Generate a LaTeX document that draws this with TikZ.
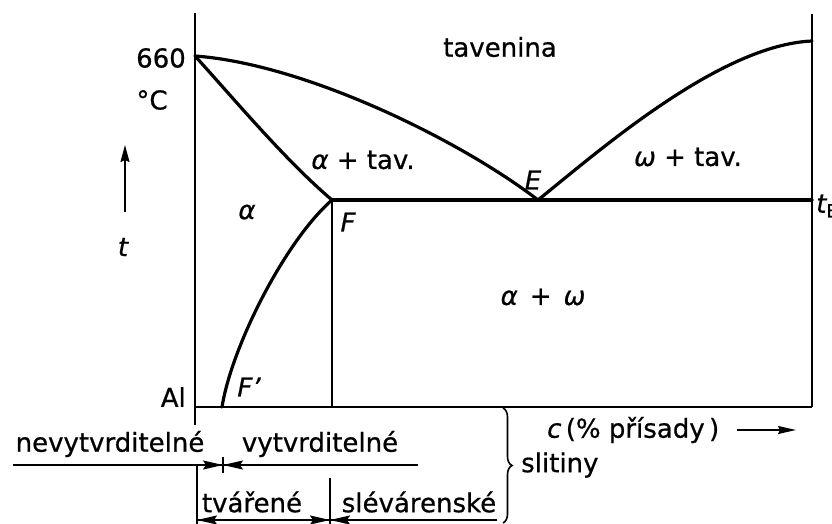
\documentclass[tikz,border=0pt]{standalone}
\usepackage{fontspec}
\setmainfont{DejaVu Sans}[FakeBold=0.7]
\usetikzlibrary{arrows.meta,decorations.pathreplacing}
\begin{document}
\begin{tikzpicture}[x=1pt,y=-1pt,
  thick line/.style={line width=3.2pt,line join=round,line cap=round},
  thin line/.style={line width=1.6pt},
  lbl/.style={inner sep=0pt,font=\fontsize{26}{28}\selectfont},
  ilbl/.style={inner sep=0pt,font=\fontsize{26}{28}\selectfont\itshape},
  dimarrow/.style={thin line,-{Stealth[length=20pt,width=9pt,inset=3pt]}},
  dimboth/.style={thin line,{Stealth[length=20pt,width=9pt,inset=3pt]}-{Stealth[length=20pt,width=9pt,inset=3pt]}}
]
\useasboundingbox (0,0) rectangle (832,524);
% key points
\coordinate (Atop) at (195,13);
\coordinate (M) at (195,56);
\coordinate (O) at (195,407);
\coordinate (Aend) at (195,425);
\coordinate (R) at (812,407);
\coordinate (Rtop) at (812,14);
\coordinate (Rl) at (812,41);
\coordinate (E) at (538,200);
\coordinate (F) at (332,200);
\coordinate (Fp) at (222,407);
\coordinate (Fb) at (332,407);
\coordinate (tEp) at (812,200);
% frame
\draw[thin line] (Atop) -- (Aend);
\draw[thin line] (O) -- (R);
\draw[thin line] (Rtop) -- (R);
\draw[thin line] (F) -- (Fb);
% phase lines
\draw[thick line] (M) .. controls (305,64) and (460,140) .. (E);
\draw[thick line] (M) .. controls (235,100) and (285,160) .. (F);
\draw[thick line] (E) .. controls (600,150) and (720,45) .. (Rl);
\draw[thick line] (F) .. controls (286,240) and (232,345) .. (Fp);
\draw[thick line] (F) -- (tEp);
% labels in diagram
\node[lbl] (tav) at (500,47) {tavenina};
\node[lbl] (atav) at (363,160) {\textit{α} + tav.};
\node[lbl] (wtav) at (688,157) {\textit{ω} + tav.};
\node[ilbl] (Elbl) at (533,180) {E};
\node[ilbl] (alpha) at (247,212) {α};
\node[ilbl] (Flbl) at (348,222) {F};
\node[lbl] (aw) at (543,297) {\textit{α}\hspace{12pt}+\hspace{12pt}\textit{ω}};
\node[ilbl] (Fplbl) at (249,387) {F’};
\node[lbl,anchor=east] (Al) at (186,397) {Al};
\node[lbl,anchor=east] (t660) at (186,58) {660};
\node[lbl] (degC) at (152,100) {°C};
\node[ilbl] (tlbl) at (123,247) {t};
\node[ilbl,anchor=west] (tE) at (816,206) {t\textsubscript{\upshape E}};
% temperature arrow
\coordinate (ta0) at (125,212);
\coordinate (ta1) at (125,145);
\draw[thin line,-{Stealth[length=17pt,width=9pt,inset=2pt]}] (ta0) -- (ta1);
% concentration axis label
\node[lbl,anchor=west] (clbl) at (547,430) {\textit{c}\,(\% přísady\,)};
\coordinate (ca0) at (737,430);
\coordinate (ca1) at (796,430);
\draw[thin line,-{Stealth[length=18pt,width=8pt,inset=2pt]}] (ca0) -- (ca1);
% bottom classification
\node[lbl] (nev) at (110,444) {nevytvrditelné};
\node[lbl] (vyt) at (320,444) {vytvrditelné};
\node[lbl] (tva) at (252,502) {tvářené};
\node[lbl] (sle) at (419,502) {slévárenské};
\node[lbl,anchor=west] (sli) at (521,465) {slitiny};
\coordinate (u1l) at (13,465);
\coordinate (u1r) at (418,465);
\coordinate (u1a) at (197,465);
\coordinate (u1t) at (223,465);
\coordinate (u1b) at (245,465);
\coordinate (tk1) at (223,457);
\coordinate (tk2) at (223,473);
\draw[thin line] (u1l) -- (u1r);
\draw[thin line] (tk1) -- (tk2);
\draw[dimarrow] (u1a) -- (u1t);
\draw[dimarrow] (u1b) -- (u1t);
\coordinate (vl0) at (197,465);
\coordinate (vl1) at (197,524);
\draw[thin line] (vl0) -- (vl1);
\coordinate (u2l) at (197,520);
\coordinate (u2m) at (330,520);
\coordinate (u2n) at (352,520);
\coordinate (u2r) at (497,520);
\draw[thin line] (u2l) -- (u2r);
\draw[dimboth] (u2l) -- (u2m);
\draw[dimarrow] (u2n) -- (u2m);
\coordinate (sp0) at (330,478);
\coordinate (sp1) at (330,524);
\draw[thin line] (sp0) -- (sp1);
% brace
\coordinate (br0) at (503,408);
\coordinate (br1) at (503,523);
\draw[thin line,decorate,decoration={brace,amplitude=9pt}] (br0) -- (br1);
\end{tikzpicture}
\end{document}
